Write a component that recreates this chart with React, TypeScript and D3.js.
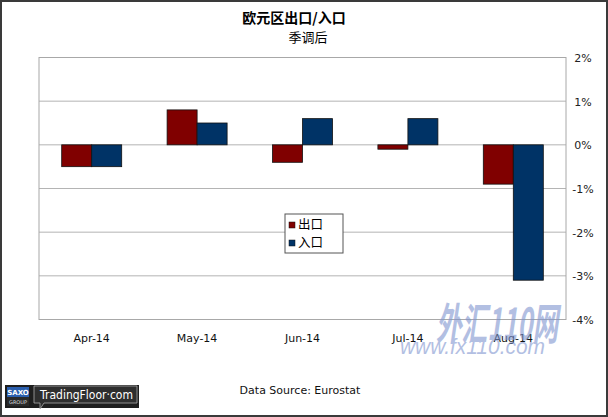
import * as d3 from 'd3'
import { useRef, useEffect } from 'react'

const months = ['Apr-14', 'May-14', 'Jun-14', 'Jul-14', 'Aug-14']
const exportsPct = [-0.5, 0.8, -0.4, -0.1, -0.9]
const importsPct = [-0.5, 0.5, 0.6, 0.6, -3.1]
const seriesNames = ['出口', '入口']
const yTicks = [-4, -3, -2, -1, 0, 1, 2]

const W = 608
const H = 417
const margin = { top: 57.5, right: 42, bottom: 97.5, left: 39 }
const cjk = '"Noto Sans CJK SC", sans-serif'
const latin = '"DejaVu Sans", Verdana, sans-serif'
const red = '#800000'
const blue = '#003366'

const App = () => {
  const xScale = d3.scaleBand()
    .domain(months)
    .range([margin.left, W - margin.right])

  const inner = d3.scaleBand()
    .domain(seriesNames)
    .range([0, 60])

  const yScale = d3.scaleLinear()
    .domain([-4, 2])
    .range([H - margin.bottom, margin.top])

  const offset = (xScale.bandwidth() - 60) / 2

  const bars = months.map((m, i) => {
    const vals = [exportsPct[i], importsPct[i]]
    return vals.map((v, j) => (
      <rect
        key={m + j}
        x={xScale(m) + offset + inner(seriesNames[j])}
        y={yScale(Math.max(0, v))}
        width={inner.bandwidth()}
        height={Math.abs(yScale(v) - yScale(0))}
        fill={j === 0 ? red : blue}
        stroke='#111'
        strokeWidth={0.8}
      />
    ))
  })

  const yAxis = useRef(null)
  const xAxis = useRef(null)

  useEffect(() => {
    const ya = d3.axisRight(yScale).tickValues(yTicks).tickSize(0).tickPadding(0)
      .tickFormat(d => `${d}%`)
    const ys = d3.select(yAxis.current).call(ya)
    ys.select('.domain').remove()
    ys.selectAll('text')
      .attr('font-family', latin).attr('font-size', 11).attr('fill', '#222')
      .attr('text-anchor', 'middle').attr('dy', '0.35em')

    const xa = d3.axisBottom(xScale).tickSize(0).tickPadding(0)
    const xs = d3.select(xAxis.current).call(xa)
    xs.select('.domain').remove()
    xs.selectAll('text')
      .attr('font-family', latin).attr('font-size', 11).attr('fill', '#111')
      .attr('dy', 0).attr('y', 0)
  })

  return (
    <div style={{ position: 'absolute', left: 0, top: 0 }}>
      <svg width={W} height={H} style={{ display: 'block', background: '#fff' }}>
        <rect x={1} y={1} width={W - 2} height={H - 2} fill='#fff' stroke='#3a3a3a' strokeWidth={2} />

        <text x={294} y={23} textAnchor='middle' fontFamily={cjk} fontWeight='bold' fontSize={14} fill='#000'>欧元区出口/入口</text>
        <text x={308} y={42} textAnchor='middle' fontFamily={cjk} fontSize={13} fill='#000'>季调后</text>

        {yTicks.map(t => (
          <line key={t} x1={margin.left} x2={W - margin.right} y1={yScale(t)} y2={yScale(t)} stroke='#b4b4b4' strokeWidth={1} />
        ))}
        <rect x={margin.left} y={margin.top} width={W - margin.left - margin.right} height={H - margin.top - margin.bottom}
          fill='none' stroke='#a8a8a8' strokeWidth={1} />

        {bars}

        <g ref={yAxis} transform={`translate(${W - margin.right + 17}, 0)`} />
        <g ref={xAxis} transform={`translate(0, ${H - margin.bottom + 22})`} />

        <g>
          <rect x={285} y={214} width={58} height={39} fill='#fff' stroke='#555' strokeWidth={1} />
          {seriesNames.map((s, i) => (
            <g key={s}>
              <rect x={289} y={222 + i * 18} width={6} height={6} fill={i === 0 ? red : blue} stroke='#111' strokeWidth={0.5} />
              <text x={298} y={229 + i * 18} fontFamily={cjk} fontSize={12.5} fill='#000'>{s}</text>
            </g>
          ))}
        </g>

        <g opacity={0.6}>
          <text x={436} y={340} textLength={122} lengthAdjust='spacingAndGlyphs' fontFamily={cjk} fontWeight='bold' fontStyle='italic' fontSize={44} fill='#7f95d0'>外汇110网</text>
          <text x={400} y={354} textLength={145} lengthAdjust='spacingAndGlyphs' fontFamily='"Liberation Sans", Arial, sans-serif' fontStyle='italic' fontSize={22} fill='#7f95d0'>www.fx110.com</text>
        </g>

        <g>
          <rect x={5} y={385} width={134} height={23} fill='#1e1e1e' />
          <rect x={7} y={387} width={22} height={19} fill='#2a2a2a' />
          <rect x={7} y={387} width={22} height={10} fill='#2b5fae' />
          <text x={18} y={395} textAnchor='middle' fontFamily={latin} fontSize={7} fill='#fff' fontWeight='bold'>SAXO</text>
          <text x={18} y={404} textAnchor='middle' fontFamily={latin} fontSize={5} fill='#ddd'>GROUP</text>
          <path d='M34,386 H137 V403 H44 L40,409 L40,403 H34 Z' fill='#2e2e2e' stroke='#aaa' strokeWidth={0.8} />
          <text x={40} y={398.5} textLength={93} lengthAdjust='spacingAndGlyphs' fontFamily={latin} fontSize={12.5} fill='#fff'>TradingFloor·com</text>
        </g>

        <text x={300} y={394} textAnchor='middle' fontFamily={latin} fontSize={11} fill='#111'>Data Source:  Eurostat</text>
      </svg>
    </div>
  )
}

export default App
